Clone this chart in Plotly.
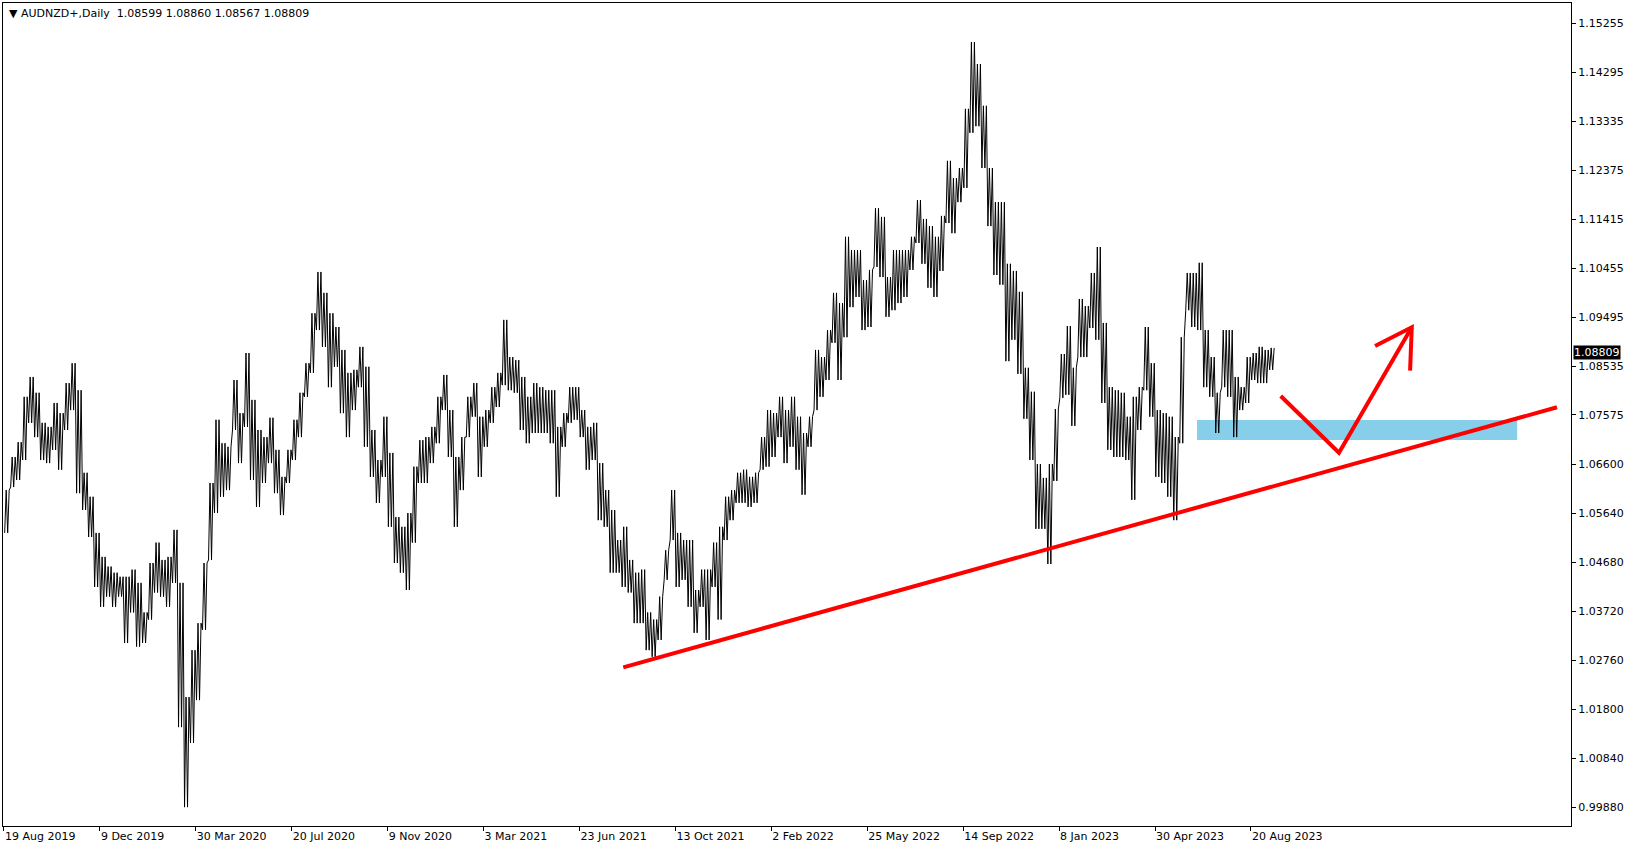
import plotly.graph_objects as go

# ---------------- data (weekly high / low, 5 daily bars per bucket) ----------------
highs = [
    1.0610, 1.0675, 1.0704, 1.0793, 1.0832, 1.0801, 1.0742, 1.0734, 1.0781, 1.0761,
    1.0820, 1.0859, 1.0806, 1.0644, 1.0597, 1.0526, 1.0479, 1.0460, 1.0448, 1.0440,
    1.0440, 1.0454, 1.0428, 1.0370, 1.0467, 1.0507, 1.0473, 1.0479, 1.0532, 1.0428,
    1.0204, 1.0296, 1.0349, 1.0467, 1.0624, 1.0748, 1.0702, 1.0695, 1.0826, 1.0761,
    1.0879, 1.0787, 1.0728, 1.0714, 1.0752, 1.0689, 1.0636, 1.0689, 1.0748, 1.0801,
    1.0859, 1.0957, 1.1038, 1.0997, 1.0957, 1.0930, 1.0885, 1.0840, 1.0846, 1.0891,
    1.0852, 1.0728, 1.0669, 1.0754, 1.0683, 1.0557, 1.0538, 1.0565, 1.0656, 1.0708,
    1.0714, 1.0734, 1.0793, 1.0836, 1.0767, 1.0675, 1.0714, 1.0793, 1.0820, 1.0754,
    1.0767, 1.0812, 1.0840, 1.0944, 1.0871, 1.0865, 1.0832, 1.0793, 1.0820, 1.0812,
    1.0806, 1.0806, 1.0734, 1.0761, 1.0812, 1.0812, 1.0767, 1.0734, 1.0742, 1.0663,
    1.0610, 1.0571, 1.0512, 1.0538, 1.0473, 1.0448, 1.0454, 1.0370, 1.0356, 1.0401,
    1.0492, 1.0610, 1.0526, 1.0512, 1.0512, 1.0414, 1.0454, 1.0454, 1.0507, 1.0538,
    1.0597, 1.0610, 1.0644, 1.0650, 1.0636, 1.0644, 1.0714, 1.0767, 1.0761, 1.0793,
    1.0767, 1.0793, 1.0754, 1.0722, 1.0754, 1.0885, 1.0871, 1.0924, 1.0997, 1.0977,
    1.1107, 1.1081, 1.1081, 1.1022, 1.1042, 1.1163, 1.1146, 1.1028, 1.1081, 1.1081,
    1.1081, 1.1107, 1.1179, 1.1142, 1.1128, 1.1107, 1.1148, 1.1256, 1.1222, 1.1242,
    1.1358, 1.1489, 1.1446, 1.1364, 1.1242, 1.1175, 1.1175, 1.1054, 1.1040, 1.0999,
    1.0850, 1.0803, 1.0661, 1.0634, 1.0661, 1.0769, 1.0877, 1.0932, 1.0850, 1.0985,
    1.0971, 1.1036, 1.1087, 1.0938, 1.0812, 1.0806, 1.0801, 1.0754, 1.0793, 1.0812,
    1.0930, 1.0859, 1.0767, 1.0761, 1.0754, 1.0714, 1.0910, 1.1036, 1.1036, 1.1056,
    1.0924, 1.0871, 1.0801, 1.0924, 1.0924, 1.0832, 1.0812, 1.0871, 1.0879, 1.0891,
    1.0885, 1.0889,
]
lows = [
    1.0526, 1.0616, 1.0630, 1.0669, 1.0742, 1.0714, 1.0669, 1.0663, 1.0689, 1.0650,
    1.0728, 1.0767, 1.0604, 1.0571, 1.0518, 1.0420, 1.0381, 1.0401, 1.0381, 1.0401,
    1.0310, 1.0370, 1.0303, 1.0310, 1.0356, 1.0409, 1.0401, 1.0381, 1.0428, 1.0145,
    0.9988, 1.0114, 1.0198, 1.0336, 1.0473, 1.0565, 1.0597, 1.0610, 1.0728, 1.0663,
    1.0734, 1.0630, 1.0577, 1.0624, 1.0663, 1.0604, 1.0561, 1.0624, 1.0669, 1.0714,
    1.0793, 1.0840, 1.0924, 1.0891, 1.0812, 1.0852, 1.0761, 1.0714, 1.0767, 1.0812,
    1.0695, 1.0636, 1.0585, 1.0636, 1.0538, 1.0467, 1.0448, 1.0414, 1.0507, 1.0624,
    1.0624, 1.0663, 1.0702, 1.0767, 1.0675, 1.0538, 1.0610, 1.0714, 1.0754, 1.0636,
    1.0695, 1.0742, 1.0773, 1.0816, 1.0806, 1.0801, 1.0728, 1.0702, 1.0722, 1.0722,
    1.0722, 1.0702, 1.0597, 1.0695, 1.0742, 1.0748, 1.0714, 1.0650, 1.0669, 1.0551,
    1.0538, 1.0448, 1.0448, 1.0420, 1.0409, 1.0349, 1.0349, 1.0296, 1.0283, 1.0316,
    1.0434, 1.0512, 1.0420, 1.0434, 1.0381, 1.0330, 1.0381, 1.0316, 1.0420, 1.0356,
    1.0512, 1.0551, 1.0585, 1.0585, 1.0577, 1.0585, 1.0650, 1.0656, 1.0675, 1.0714,
    1.0663, 1.0695, 1.0650, 1.0601, 1.0695, 1.0767, 1.0793, 1.0826, 1.0899, 1.0826,
    1.0910, 1.0969, 1.0989, 1.0924, 1.0930, 1.1048, 1.1028, 1.0950, 1.0963, 1.0977,
    1.0989, 1.1042, 1.1095, 1.1054, 1.1007, 1.0989, 1.1040, 1.1134, 1.1114, 1.1175,
    1.1203, 1.1311, 1.1324, 1.1242, 1.1128, 1.1032, 1.1013, 1.0863, 1.0905, 1.0838,
    1.0750, 1.0669, 1.0534, 1.0534, 1.0465, 1.0628, 1.0791, 1.0797, 1.0736, 1.0871,
    1.0871, 1.0928, 1.0905, 1.0781, 1.0689, 1.0675, 1.0675, 1.0669, 1.0591, 1.0728,
    1.0806, 1.0754, 1.0636, 1.0624, 1.0597, 1.0551, 1.0702, 1.0963, 1.0930, 1.0924,
    1.0812, 1.0793, 1.0722, 1.0812, 1.0793, 1.0714, 1.0767, 1.0781, 1.0826, 1.0820,
    1.0820, 1.0846,
]
bars_per_bucket = 5

date_labels = ["19 Aug 2019", "9 Dec 2019", "30 Mar 2020", "20 Jul 2020", "9 Nov 2020",
               "3 Mar 2021", "23 Jun 2021", "13 Oct 2021", "2 Feb 2022", "25 May 2022",
               "14 Sep 2022", "8 Jan 2023", "30 Apr 2023", "20 Aug 2023"]
bars_between_labels = 80

price_ticks = [1.15255, 1.14295, 1.13335, 1.12375, 1.11415, 1.10455, 1.09495, 1.08535,
               1.07575, 1.06600, 1.05640, 1.04680, 1.03720, 1.02760, 1.01800, 1.00840,
               0.99880]

title_text = "AUDNZD+,Daily  1.08599 1.08860 1.08567 1.08809"
last_price = 1.08809

# drawings (bar index, price)
trend_x = [516.5, 1295.2]
trend_y = [1.02623, 1.07725]
path_x = [1064.8, 1113.4, 1174.1]
path_y = [1.07947, 1.06834, 1.09294]
head_x = [1143.5, 1174.1, 1172.7]
head_y = [1.08928, 1.09294, 1.08443]
zone_x = [995, 1262]
zone_y = [1.07083, 1.07476]

x_range = [-0.8, 1306.9]
y_range = [0.99510, 1.15657]

FONT = "DejaVu Sans"

# ---------------- price path: dense zig-zag between each bucket's low and high ----------------
offsets = [0.6, 1.85, 3.1, 4.35]
px, py = [], []
use_low = True
for k, (h, l) in enumerate(zip(highs, lows)):
    for off in offsets:
        px.append(bars_per_bucket * k + off)
        py.append(l if use_low else h)
        use_low = not use_low

fig = go.Figure()
fig.add_shape(type="rect", x0=zone_x[0], x1=zone_x[1], y0=zone_y[0], y1=zone_y[1],
              xref="x", yref="y", fillcolor="#87CEEB", line=dict(width=0), layer="below")

fig.add_trace(go.Scatter(x=px, y=py, mode="lines", line=dict(color="black", width=1.0),
                         hoverinfo="skip", showlegend=False))

fig.add_trace(go.Scatter(x=trend_x, y=trend_y, mode="lines", line=dict(color="#FF0000", width=4),
                         hoverinfo="skip", showlegend=False))
fig.add_trace(go.Scatter(x=path_x, y=path_y, mode="lines", line=dict(color="#FF0000", width=4),
                         hoverinfo="skip", showlegend=False))
fig.add_trace(go.Scatter(x=head_x, y=head_y, mode="lines", line=dict(color="#FF0000", width=4),
                         hoverinfo="skip", showlegend=False))

fig.add_annotation(x=0, y=1, xref="paper", yref="paper", xanchor="left", yanchor="top",
                   xshift=4, yshift=-2, showarrow=False,
                   text="\u25BC " + title_text, font=dict(family=FONT, size=11, color="black"))

fig.add_annotation(x=1, y=last_price, xref="paper", yref="y", xanchor="left", yanchor="middle",
                   xshift=2, showarrow=False, text="%.5f" % last_price, bgcolor="black",
                   borderpad=0, font=dict(family=FONT, size=11, color="white"))

fig.update_layout(
    width=1635, height=850,
    margin=dict(l=3, r=64, t=3, b=24),
    paper_bgcolor="white", plot_bgcolor="white",
    font=dict(family=FONT, size=11, color="black"),
    hovermode=False,
    xaxis=dict(range=x_range, showgrid=False, zeroline=False,
               showline=True, mirror=True, linecolor="black", linewidth=1,
               tickvals=[bars_between_labels * i for i in range(len(date_labels))],
               ticktext=date_labels, ticks="outside", ticklen=4, tickcolor="black",
               ticklabelposition="outside right", tickfont=dict(family=FONT, size=11)),
    yaxis=dict(range=y_range, side="right", showgrid=False, zeroline=False,
               showline=True, mirror=True, linecolor="black", linewidth=1,
               tickvals=price_ticks, ticktext=["%.5f" % v for v in price_ticks],
               ticks="outside", ticklen=4, tickcolor="black",
               tickfont=dict(family=FONT, size=11)),
)

fig.write_html("out.html", config={"displayModeBar": False},
               post_script="document.body.style.margin='0';document.body.style.overflow='hidden';")
